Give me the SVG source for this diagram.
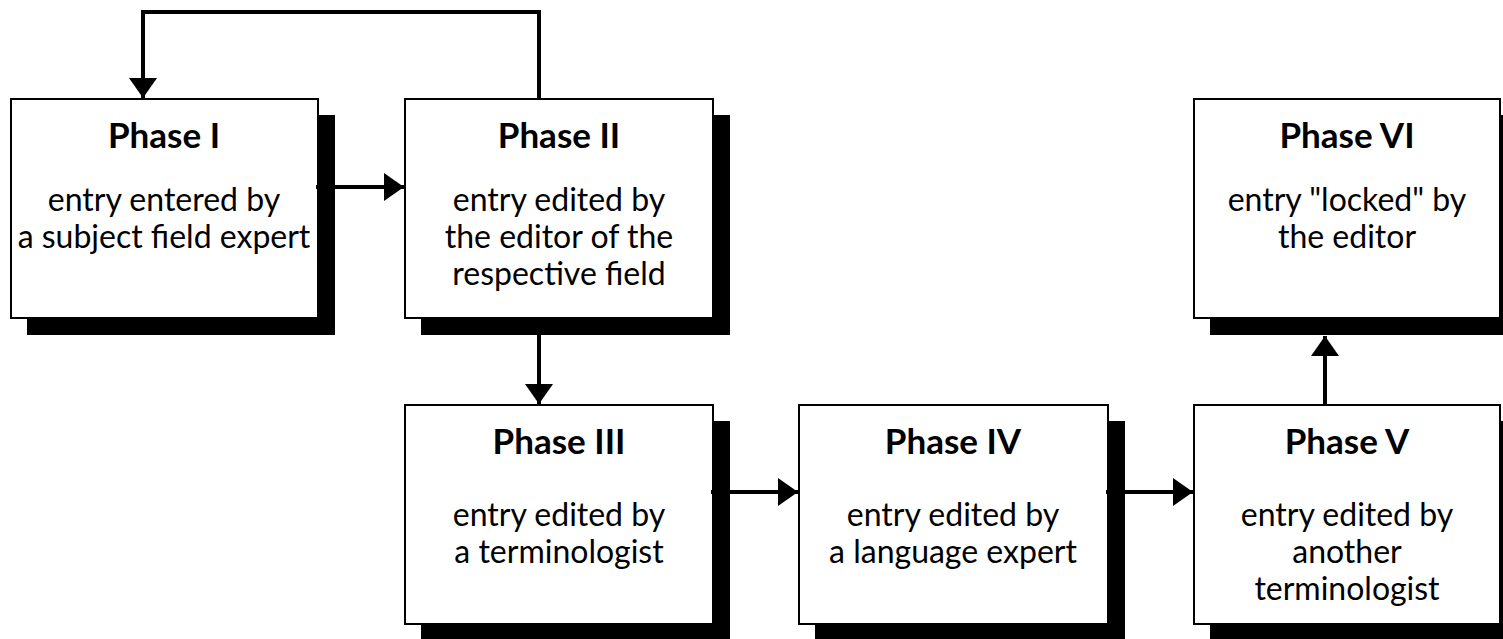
<svg xmlns="http://www.w3.org/2000/svg" width="1503" height="639" viewBox="0 0 1503 639">
<defs>
<style>
.shadow{fill:#000}
.box{fill:#fff;stroke:#000;stroke-width:2}
.title{font-family:Lato,"Open Sans",sans-serif;font-weight:bold;font-size:35px;text-anchor:middle;fill:#000}
.body{font-family:Lato,"Open Sans",sans-serif;font-size:32px;text-anchor:middle;fill:#000}
.conn{fill:none;stroke:#000;stroke-width:4}
</style>
<marker id="arr" markerUnits="userSpaceOnUse" markerWidth="22" markerHeight="28" refX="20" refY="14" orient="auto">
<path d="M0,0 L20,14 L0,28 Z" fill="#000"/>
</marker>
</defs>
<rect width="1503" height="639" fill="#fff"/>
<g id="phase1">
<rect class="shadow" x="27" y="115" width="308" height="220"/>
<rect class="box" x="11" y="99" width="307" height="219"/>
<text class="title" x="164" y="148">Phase I</text>
<text class="body" x="164" y="211">entry entered by</text>
<text class="body" x="164" y="248">a subject field expert</text>
</g>
<g id="phase2">
<rect class="shadow" x="421" y="115" width="309" height="220"/>
<rect class="box" x="405" y="99" width="308" height="219"/>
<text class="title" x="559" y="148">Phase II</text>
<text class="body" x="559" y="211">entry edited by</text>
<text class="body" x="559" y="248">the editor of the</text>
<text class="body" x="559" y="285">respective field</text>
</g>
<g id="phase3">
<rect class="shadow" x="421" y="421" width="309" height="220"/>
<rect class="box" x="405" y="405" width="308" height="219"/>
<text class="title" x="559" y="454">Phase III</text>
<text class="body" x="559" y="526">entry edited by</text>
<text class="body" x="559" y="563">a terminologist</text>
</g>
<g id="phase4">
<rect class="shadow" x="815" y="421" width="310" height="220"/>
<rect class="box" x="799" y="405" width="309" height="219"/>
<text class="title" x="953" y="454">Phase IV</text>
<text class="body" x="953" y="526">entry edited by</text>
<text class="body" x="953" y="563">a language expert</text>
</g>
<g id="phase5">
<rect class="shadow" x="1210" y="421" width="308" height="220"/>
<rect class="box" x="1194" y="405" width="306" height="219"/>
<text class="title" x="1347" y="454">Phase V</text>
<text class="body" x="1347" y="526">entry edited by</text>
<text class="body" x="1347" y="563">another</text>
<text class="body" x="1347" y="600">terminologist</text>
</g>
<g id="phase6">
<rect class="shadow" x="1210" y="115" width="308" height="220"/>
<rect class="box" x="1194" y="99" width="306" height="219"/>
<text class="title" x="1347" y="148">Phase VI</text>
<text class="body" x="1347" y="211">entry "locked" by</text>
<text class="body" x="1347" y="248">the editor</text>
</g>
<g id="connectors">
<path class="conn" d="M539,99 L539,12 L143,12 L143,98" marker-end="url(#arr)"/>
<path class="conn" d="M316,187 L404,187" marker-end="url(#arr)"/>
<path class="conn" d="M539,318 L539,404" marker-end="url(#arr)"/>
<path class="conn" d="M711,492 L798,492" marker-end="url(#arr)"/>
<path class="conn" d="M1106,492 L1193,492" marker-end="url(#arr)"/>
<path class="conn" d="M1325,405 L1325,336" marker-end="url(#arr)"/>
</g>
</svg>
